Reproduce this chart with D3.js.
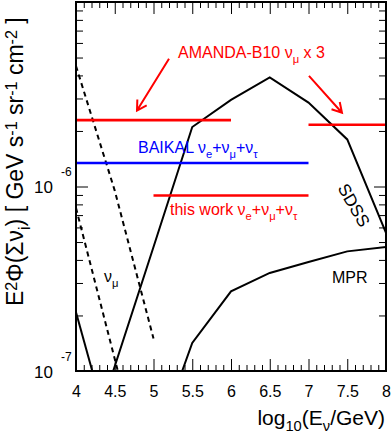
<!DOCTYPE html>
<html>
<head>
<meta charset="utf-8">
<script src="https://cdn.jsdelivr.net/npm/d3@7"></script>
<style>
  body { margin: 0; background: #fff; }
  svg { display: block; font-family: "Liberation Sans", Arial, Helvetica, sans-serif; }
</style>
</head>
<body>
<div id="root"></div>
<script>
// values; x is log10(E/GeV), y is E^2 Phi [GeV s^-1 sr^-1 cm^-2]
const amandaLeftX = [4.0, 6.0]
const amandaLeftY = [2.29e-6, 2.29e-6]
const amandaRightX = [7.0, 8.0]
const amandaRightY = [2.16e-6, 2.16e-6]
const baikalX = [4.0, 7.0]
const baikalY = [1.34e-6, 1.34e-6]
const thisWorkX = [5.0, 7.0]
const thisWorkY = [8.93e-7, 8.93e-7]
const sdssX = [4.48, 5.0, 5.5, 6.0, 6.5, 7.0, 7.5, 8.0]
const sdssY = [1.0e-7, 4.7e-7, 2.1e-6, 2.95e-6, 3.9e-6, 2.85e-6, 1.8e-6, 5.6e-7]
const mprX = [5.37, 5.5, 6.0, 6.5, 7.0, 7.5, 8.0]
const mprY = [1.0e-7, 1.42e-7, 2.7e-7, 3.4e-7, 3.9e-7, 4.45e-7, 4.7e-7]
const leftModelX = [4.0, 4.21]
const leftModelY = [2.08e-7, 1.0e-7]
const atmUpperX = [4.0, 4.5, 5.0]
const atmUpperY = [4.5e-6, 9.5e-7, 1.5e-7]
const atmLowerX = [4.0, 4.54]
const atmLowerY = [7.65e-7, 1.0e-7]

const xTickLabels = ['4', '4.5', '5', '5.5', '6', '6.5', '7', '7.5', '8']
const yTickExps = [-7, -6]

const width = 391
const height = 437

const x = d3.scaleLinear().domain([4, 8]).range([76, 386])
const y = d3.scaleLog().domain([1e-7, 1e-5]).range([371, 2])

const pts = (xs, ys) => xs.map((v, i) => [v, ys[i]])
const line = d3.line().x(d => x(d[0])).y(d => y(d[1]))

const svg = d3.select('#root').append('svg')
    .attr('width', width)
    .attr('height', height)

svg.append('defs').append('clipPath')
    .attr('id', 'plot-clip')
    .append('rect')
    .attr('x', x(4)).attr('y', y(1e-5))
    .attr('width', x(8) - x(4)).attr('height', y(1e-7) - y(1e-5))

// text with sub/superscripts, parts like {t, sub} or {t, sup}
const rich = (sel, parts, size, supRaise = 0.42) => {
    let shift = 0
    parts.forEach(p => {
        const target = p.sub ? size * 0.3 : p.sup ? -size * supRaise : 0
        sel.append('tspan')
            .attr('dy', target - shift)
            .style('font-size', (p.sub || p.sup) ? (size * 0.7) + 'px' : size + 'px')
            .text(p.t)
        shift = target
    })
    return sel
}

// ticks, all pointing inward
const xMajor = xTickLabels.map(Number)
const xMinor = d3.range(40, 81).map(d => d / 10).filter(d => !xMajor.includes(d))
const yAll = y.ticks()
const yMajor = yAll.filter(d => Math.abs(Math.log10(d) - Math.round(Math.log10(d))) < 1e-9)
const yMinor = yAll.filter(d => !yMajor.includes(d))

const axes = svg.append('g')
const addAxis = (axis, tx, ty) => {
    const g = axes.append('g')
        .attr('transform', `translate(${tx},${ty})`)
        .call(axis.tickSizeOuter(0))
    g.select('.domain').remove()
    g.selectAll('.tick line').attr('stroke', '#000').attr('stroke-width', 1)
    g.attr('font-family', null).attr('font-size', 16)
    return g
}
addAxis(d3.axisBottom(x).tickValues(xMajor).tickFormat((d, i) => xTickLabels[i]).tickSizeInner(-12).tickPadding(15), 0, 371)
addAxis(d3.axisBottom(x).tickValues(xMinor).tickFormat('').tickSizeInner(-6), 0, 371)
addAxis(d3.axisTop(x).tickValues(xMajor).tickFormat('').tickSizeInner(-12), 0, 2)
addAxis(d3.axisTop(x).tickValues(xMinor).tickFormat('').tickSizeInner(-6), 0, 2)
addAxis(d3.axisLeft(y).tickValues(yMajor).tickFormat('').tickSizeInner(-12), 76, 0)
addAxis(d3.axisLeft(y).tickValues(yMinor).tickFormat('').tickSizeInner(-7), 76, 0)
addAxis(d3.axisRight(y).tickValues(yMajor).tickFormat('').tickSizeInner(-12), 386, 0)
addAxis(d3.axisRight(y).tickValues(yMinor).tickFormat('').tickSizeInner(-7), 386, 0)
axes.selectAll('.tick text').attr('fill', '#000')

// y tick labels 10^n
yTickExps.forEach(e => {
    const v = Math.pow(10, e)
    axes.append('text')
        .attr('x', 53).attr('y', y(v) + 6.5)
        .attr('text-anchor', 'end')
        .style('font-size', '17px')
        .text('10')
    axes.append('text')
        .attr('x', 61).attr('y', y(v) - 10.5)
        .style('font-size', '12px')
        .text('-' + Math.abs(e))
})

// curves
const plot = svg.append('g').attr('clip-path', 'url(#plot-clip)')
const curve = (xs, ys, color, w, dash) => plot.append('path')
    .attr('d', line(pts(xs, ys)))
    .attr('fill', 'none')
    .attr('stroke', color)
    .attr('stroke-width', w)
    .attr('stroke-dasharray', dash || null)

curve(sdssX, sdssY, '#000', 2)
curve(mprX, mprY, '#000', 2)
curve(leftModelX, leftModelY, '#000', 2)
curve(atmUpperX, atmUpperY, '#000', 2, '5,4')
curve(atmLowerX, atmLowerY, '#000', 2, '5,4')
curve(amandaLeftX, amandaLeftY, '#f00', 2.6)
curve(amandaRightX, amandaRightY, '#f00', 2.6)
curve(baikalX, baikalY, '#00f', 2.4)
curve(thisWorkX, thisWorkY, '#f00', 2.6)

// frame
svg.append('rect')
    .attr('x', x(4)).attr('y', y(1e-5))
    .attr('width', x(8) - x(4)).attr('height', y(1e-7) - y(1e-5))
    .attr('fill', 'none')
    .attr('stroke', '#000')
    .attr('stroke-width', 2)

// arrows from the AMANDA label
const arrow = (x0, y0, x1, y1) => {
    const ax = x(x0), ay = y(y0), bx = x(x1), by = y(y1)
    const ang = Math.atan2(by - ay, bx - ax)
    const L = 11, spread = Math.PI / 6
    const h1 = [bx - L * Math.cos(ang - spread), by - L * Math.sin(ang - spread)]
    const h2 = [bx - L * Math.cos(ang + spread), by - L * Math.sin(ang + spread)]
    svg.append('path')
        .attr('d', `M${ax},${ay}L${bx},${by}M${h1[0]},${h1[1]}L${bx},${by}L${h2[0]},${h2[1]}`)
        .attr('fill', 'none')
        .attr('stroke', '#f00')
        .attr('stroke-width', 2)
}
arrow(5.2, 4.92e-6, 4.787, 2.58e-6)
arrow(7.006, 3.98e-6, 7.432, 2.51e-6)

// labels
const label = (lx, ly, color, parts, size, rot) => {
    const t = svg.append('text')
        .attr('transform', `translate(${x(lx)},${y(ly)})` + (rot ? ` rotate(${rot})` : ''))
        .attr('fill', color)
    return rich(t, parts, size)
}
label(5.316, 4.98e-6, '#f00', [{t: 'AMANDA-B10 ν'}, {t: 'μ', sub: true}, {t: ' x 3'}], 16)
label(4.8, 1.51e-6, '#00f', [{t: 'BAIKAL ν'}, {t: 'e', sub: true}, {t: '+ν'}, {t: 'μ', sub: true}, {t: '+ν'}, {t: 'τ', sub: true}], 16)
label(5.213, 6.97e-7, '#f00', [{t: 'this work ν'}, {t: 'e', sub: true}, {t: '+ν'}, {t: 'μ', sub: true}, {t: '+ν'}, {t: 'τ', sub: true}], 16)
label(7.37, 9.8e-7, '#000', [{t: 'SDSS'}], 17, 60)
label(7.303, 2.99e-7, '#000', [{t: 'MPR'}], 16)
label(4.361, 3.03e-7, '#000', [{t: 'ν'}, {t: 'μ', sub: true}], 16)

// axis titles
const xTitle = svg.append('text')
    .attr('x', 385).attr('y', 425)
    .attr('text-anchor', 'end')
rich(xTitle, [{t: 'log'}, {t: '10', sub: true}, {t: '(E'}, {t: 'ν', sub: true}, {t: '/GeV)'}], 21)

const yTitle = svg.append('text')
    .attr('transform', 'translate(23,306) rotate(-90)')
rich(yTitle, [{t: 'E'}, {t: '2', sup: true}, {t: 'Φ(Σν'}, {t: 'i', sub: true}, {t: ') [ GeV s'}, {t: '-1', sup: true}, {t: ' sr'}, {t: '-1', sup: true}, {t: ' cm'}, {t: '-2', sup: true}, {t: ' ]'}], 23, 0.26)
</script>
</body>
</html>
